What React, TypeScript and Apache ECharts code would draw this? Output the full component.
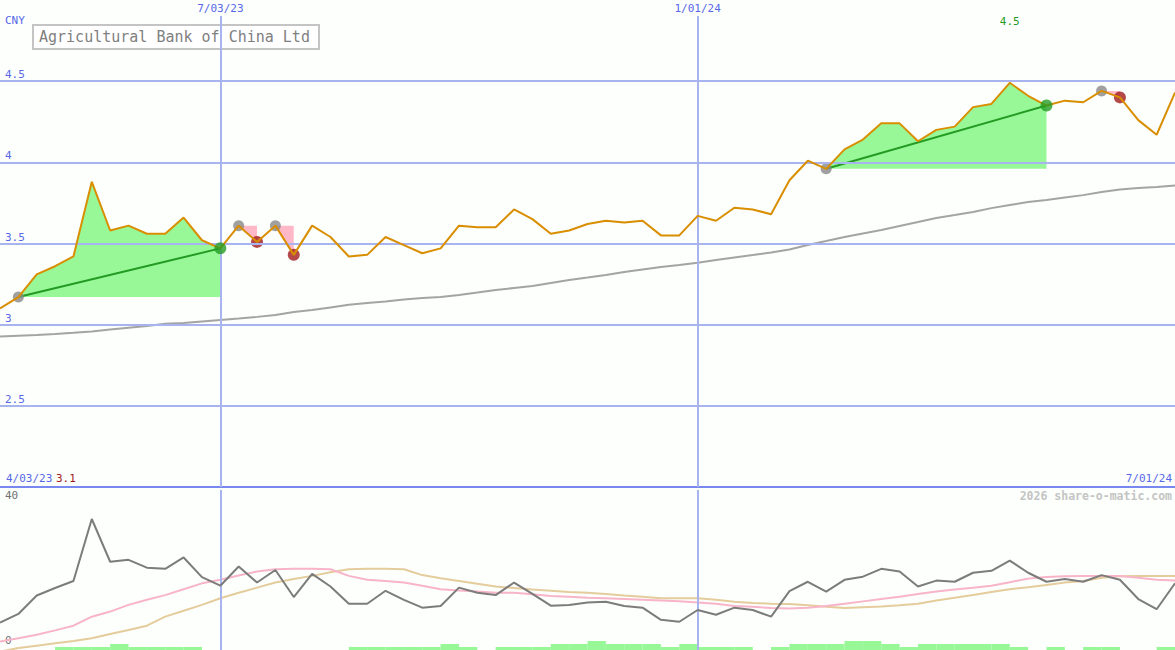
import React, { useEffect, useRef } from "react";
import * as echarts from "echarts";

// ---------- texts / ticks ----------
const title = "Agricultural Bank of China Ltd";
const currency = "CNY";
const startDateLabel = "4/03/23";
const endDateLabel = "7/01/24";
const watermark = "2026 share-o-matic.com";
const dateTicks = [
  { week: 12, label: "7/03/23" },
  { week: 38, label: "1/01/24" },
];
const priceLevels = [2.5, 3, 3.5, 4, 4.5];
const lowerTickLabels = ["40", "0"];

// ---------- weekly data (index 0..64) ----------
const price = [
  3.10, 3.17, 3.31, 3.36, 3.42, 3.88, 3.58, 3.61, 3.56, 3.56,
  3.66, 3.52, 3.47, 3.61, 3.51, 3.61, 3.43, 3.61, 3.54, 3.42,
  3.43, 3.54, 3.49, 3.44, 3.47, 3.61, 3.60, 3.60, 3.71, 3.65,
  3.56, 3.58, 3.62, 3.64, 3.63, 3.64, 3.55, 3.55, 3.67, 3.64,
  3.72, 3.71, 3.68, 3.89, 4.01, 3.96, 4.08, 4.14, 4.24, 4.24,
  4.13, 4.20, 4.22, 4.34, 4.36, 4.49, 4.41, 4.35, 4.38, 4.37,
  4.44, 4.40, 4.26, 4.17, 4.43,
];

const priceMA = [
  2.927, 2.932, 2.937, 2.943, 2.950, 2.958, 2.970, 2.981, 2.992, 3.005,
  3.011, 3.020, 3.029, 3.038, 3.048, 3.060, 3.078, 3.090, 3.106, 3.122,
  3.134, 3.143, 3.155, 3.165, 3.171, 3.183, 3.198, 3.214, 3.226, 3.238,
  3.257, 3.275, 3.290, 3.306, 3.325, 3.340, 3.355, 3.368, 3.382, 3.398,
  3.414, 3.429, 3.445, 3.463, 3.491, 3.515, 3.540, 3.562, 3.583, 3.608,
  3.632, 3.657, 3.675, 3.694, 3.718, 3.737, 3.755, 3.768, 3.783, 3.798,
  3.817, 3.832, 3.842, 3.848, 3.857,
];

const oscGrey = [
  6.2, 8.4, 13.1, 15.0, 16.8, 32.6, 21.7, 22.2, 20.2, 19.9,
  22.8, 17.8, 15.6, 20.5, 16.4, 19.6, 12.7, 18.6, 15.4, 11.0,
  11.0, 14.3, 12.0, 10.0, 10.4, 15.1, 13.8, 13.2, 16.4, 13.5,
  10.5, 10.7, 11.3, 11.5, 10.4, 10.0, 6.9, 6.4, 9.4, 8.2,
  10.0, 9.4, 7.7, 14.2, 16.6, 14.1, 17.1, 17.9, 19.9, 19.2,
  15.4, 16.9, 16.6, 18.9, 19.4, 22.0, 18.9, 16.6, 17.3, 16.6,
  18.3, 17.1, 12.2, 9.6, 16.2,
];

const oscPink = [
  1.35, 2.2, 3.1, 4.2, 5.4, 7.7, 9.0, 10.7, 12.0, 13.2,
  14.7, 16.2, 17.1, 18.2, 19.2, 19.8, 19.9, 19.9, 19.8, 18.1,
  17.1, 16.8, 16.4, 15.6, 14.7, 14.4, 14.1, 13.8, 13.8, 13.4,
  13.0, 12.8, 12.5, 12.4, 12.2, 12.0, 11.8, 11.6, 11.3, 11.0,
  10.4, 10.2, 9.9, 9.8, 10.0, 10.4, 11.0, 11.6, 12.2, 12.8,
  13.5, 14.1, 14.6, 15.1, 15.6, 16.5, 17.4, 17.8, 18.0, 18.1,
  18.1, 18.1, 17.6, 17.1, 16.9,
];

const oscTan = [
  -1.2, -0.3, 0.3, 0.9, 1.5, 2.2, 3.3, 4.3, 5.4, 7.7,
  9.2, 10.7, 12.4, 13.8, 15.1, 16.4, 17.3, 18.1, 19.0, 19.8,
  19.9, 19.9, 19.8, 18.3, 17.5, 16.8, 16.1, 15.4, 15.0, 14.6,
  14.3, 14.0, 13.8, 13.5, 13.1, 12.8, 12.4, 12.4, 12.4, 12.0,
  11.5, 11.2, 11.0, 10.9, 10.6, 10.2, 9.9, 10.1, 10.3, 10.6,
  11.0, 11.8, 12.5, 13.2, 14.0, 14.7, 15.2, 15.8, 16.4, 16.8,
  17.6, 18.0, 18.1, 18.1, 18.1,
];

const volume = [
  0, 0, 0, 1, 1, 1, 2, 1, 1, 1,
  1, 0, 0, 0, 0, 0, 0, 0, 0, 1,
  1, 1, 1, 1, 2, 1, 0, 1, 1, 1,
  2, 2, 3, 2, 2, 2, 1, 2, 1, 1,
  1, 0, 1, 2, 2, 2, 3, 3, 2, 1,
  2, 2, 2, 2, 2, 1, 0, 1, 0, 1,
  1, 0, 0, 1, 0,
];

const gainZones = [
  [1, 12],
  [45, 57],
];
const lossZones = [
  [13, 14],
  [15, 16],
  [60, 61],
];

// ---------- styles ----------
const FONT = '"DejaVu Sans Mono", "Liberation Mono", monospace';
const BLUE_TEXT = "#5868e8";
const GRID_LINE = "#a8b4f0";
const SEP_LINE = "#7888f0";
const BG = "#fcfffc";

const W = 1175;
const H = 650;

const toPts = (arr: number[]) => arr.map((v, i) => [i, v]);

export default function App() {
  const ref = useRef<HTMLDivElement>(null);

  useEffect(() => {
    if (!ref.current) return;
    const chart = echarts.init(ref.current, undefined, { renderer: "svg", width: W, height: H });

    const lastIdx = price.length - 1;
    const minPrice = Math.min(...price);

    const greyDots = [...gainZones, ...lossZones].map(([s]) => [s, price[s]]);
    const greenDots = gainZones.map(([, e]) => [e, price[e]]);
    const redDots = lossZones.map(([, e]) => [e, price[e]]);

    const option: any = {
      animation: false,
      backgroundColor: BG,
      grid: [
        { left: 0, top: 16, width: W, height: 471 },
        { left: 0, top: 490, width: W, height: 160 },
        { left: 0, top: 490, width: W, height: 160 },
      ],
      xAxis: [
        {
          gridIndex: 0,
          type: "value",
          min: 0,
          max: lastIdx,
          axisLine: { show: true, onZero: false, lineStyle: { color: SEP_LINE, width: 2 } },
          axisTick: { show: false },
          axisLabel: { show: false },
          splitLine: { show: false },
        },
        { gridIndex: 1, type: "value", min: 0, max: lastIdx, show: false, splitLine: { show: false } },
        { gridIndex: 2, type: "value", min: 0, max: lastIdx, show: false, splitLine: { show: false } },
      ],
      yAxis: [
        { gridIndex: 0, type: "value", min: 2, max: 2 + (471 * 3) / 487, show: false, splitLine: { show: false } },
        { gridIndex: 1, type: "value", min: -0.8, max: 40, show: false, splitLine: { show: false } },
        { gridIndex: 2, type: "value", min: 0, max: 160 / 3, show: false, splitLine: { show: false } },
      ],
      series: [
        // grid lines + date lines for the price panel
        {
          type: "line",
          xAxisIndex: 0,
          yAxisIndex: 0,
          data: toPts(price),
          showSymbol: false,
          lineStyle: { opacity: 0 },
          z: 1,
          silent: true,
          markLine: {
            silent: true,
            symbol: "none",
            animation: false,
            lineStyle: { color: GRID_LINE, width: 2, type: "solid" },
            data: [
              ...priceLevels.map((v) => ({
                yAxis: v,
                label: {
                  show: true,
                  position: "insideStartTop",
                  distance: [5, 1],
                  formatter: String(v),
                  color: BLUE_TEXT,
                  fontFamily: FONT,
                  fontSize: 11,
                },
              })),
              ...dateTicks.map((d) => ({
                xAxis: d.week,
                label: {
                  show: true,
                  position: "end",
                  distance: 2,
                  formatter: d.label,
                  color: BLUE_TEXT,
                  fontFamily: FONT,
                  fontSize: 11,
                },
              })),
            ],
          },
        },
        // date lines for the lower panel
        {
          type: "line",
          xAxisIndex: 1,
          yAxisIndex: 1,
          data: toPts(oscGrey),
          showSymbol: false,
          lineStyle: { opacity: 0 },
          z: 1,
          silent: true,
          markLine: {
            silent: true,
            symbol: "none",
            animation: false,
            lineStyle: { color: GRID_LINE, width: 2, type: "solid" },
            label: { show: false },
            data: dateTicks.map((d) => ({ xAxis: d.week })),
          },
        },
        // gain zones
        {
          type: "custom",
          xAxisIndex: 0,
          yAxisIndex: 0,
          z: 2,
          silent: true,
          data: gainZones.map(([s, e]) => [s, price[s], e, price[e]]),
          encode: { x: [0, 2], y: [1, 3] },
          renderItem: (_params: any, api: any) => {
            const s = api.value(0);
            const e = api.value(2);
            const base = price[s];
            const pts: number[][] = [];
            for (let i = s; i <= e; i++) pts.push(api.coord([i, price[i]]));
            pts.push(api.coord([e, base]));
            pts.push(api.coord([s, base]));
            const a = api.coord([s, price[s]]);
            const b = api.coord([e, price[e]]);
            return {
              type: "group",
              children: [
                { type: "polygon", shape: { points: pts }, style: { fill: "#98f898" } },
                {
                  type: "line",
                  shape: { x1: a[0], y1: a[1], x2: b[0], y2: b[1] },
                  style: { stroke: "#239b23", lineWidth: 2 },
                },
              ],
            };
          },
        },
        // loss zones
        {
          type: "custom",
          xAxisIndex: 0,
          yAxisIndex: 0,
          z: 2,
          silent: true,
          data: lossZones.map(([s, e]) => [s, price[s], e, price[e]]),
          encode: { x: [0, 2], y: [1, 3] },
          renderItem: (_params: any, api: any) => {
            const s = api.value(0);
            const e = api.value(2);
            const top = price[s];
            const pts: number[][] = [];
            for (let i = s; i <= e; i++) pts.push(api.coord([i, price[i]]));
            pts.push(api.coord([e, top]));
            return { type: "polygon", shape: { points: pts }, style: { fill: "#ffb8c8" } };
          },
        },
        // long moving average
        {
          type: "line",
          xAxisIndex: 0,
          yAxisIndex: 0,
          data: toPts(priceMA),
          showSymbol: false,
          lineStyle: { color: "#a4a4a4", width: 2 },
          z: 3,
          silent: true,
        },
        // grey start dots
        {
          type: "scatter",
          xAxisIndex: 0,
          yAxisIndex: 0,
          data: greyDots,
          symbolSize: 11,
          itemStyle: { color: "#888888" },
          z: 4,
          silent: true,
        },
        // red end dots
        {
          type: "scatter",
          xAxisIndex: 0,
          yAxisIndex: 0,
          data: redDots,
          symbolSize: 12,
          itemStyle: { color: "#a31a1a" },
          z: 4,
          silent: true,
        },
        // price line
        {
          type: "line",
          xAxisIndex: 0,
          yAxisIndex: 0,
          data: toPts(price),
          showSymbol: false,
          lineStyle: { color: "#d98e00", width: 2 },
          z: 5,
          silent: true,
          markPoint: {
            silent: true,
            symbol: "circle",
            symbolSize: 1,
            itemStyle: { color: "rgba(0,0,0,0)" },
            label: {
              show: true,
              position: "top",
              distance: 55,
              color: "#239b23",
              fontFamily: FONT,
              fontSize: 11,
              formatter: (p: any) => Number(p.value).toFixed(1),
            },
            data: [{ type: "max", name: "max", valueDim: "y" }],
          },
        },
        // green end dots
        {
          type: "scatter",
          xAxisIndex: 0,
          yAxisIndex: 0,
          data: greenDots,
          symbolSize: 12,
          itemStyle: { color: "#249c24" },
          z: 6,
          silent: true,
        },
        // lower panel
        {
          type: "line",
          xAxisIndex: 1,
          yAxisIndex: 1,
          data: toPts(oscTan),
          showSymbol: false,
          lineStyle: { color: "#e4cc9c", width: 2 },
          z: 3,
          silent: true,
        },
        {
          type: "line",
          xAxisIndex: 1,
          yAxisIndex: 1,
          data: toPts(oscPink),
          showSymbol: false,
          lineStyle: { color: "#f8b4c8", width: 2 },
          z: 4,
          silent: true,
        },
        {
          type: "line",
          xAxisIndex: 1,
          yAxisIndex: 1,
          data: toPts(oscGrey),
          showSymbol: false,
          lineStyle: { color: "#7c7c7c", width: 2 },
          z: 5,
          silent: true,
        },
        {
          type: "bar",
          xAxisIndex: 2,
          yAxisIndex: 2,
          data: volume.map((v, i) => [i + 0.5, v]),
          barWidth: 18.4,
          itemStyle: { color: "#98f898" },
          z: 2,
          silent: true,
        },
      ],
      graphic: [
        {
          type: "group",
          left: 32,
          top: 24,
          children: [
            {
              type: "rect",
              shape: { x: 0, y: 0, width: 286, height: 24 },
              style: { fill: "#ffffff", stroke: "#c4c4c4", lineWidth: 2 },
            },
            {
              type: "text",
              x: 6,
              y: 12,
              style: {
                text: title,
                fill: "#808080",
                font: `15px ${FONT}`,
                verticalAlign: "middle",
              },
            },
          ],
        },
        {
          type: "text",
          left: 5,
          top: 15,
          style: { text: currency, fill: BLUE_TEXT, font: `11px ${FONT}` },
        },
        {
          type: "text",
          left: 6,
          top: 473,
          style: { text: startDateLabel, fill: BLUE_TEXT, font: `11px ${FONT}` },
        },
        {
          type: "text",
          left: 56,
          top: 473,
          style: { text: minPrice.toFixed(1), fill: "#a31a1a", font: `11px ${FONT}` },
        },
        {
          type: "text",
          right: 3,
          top: 473,
          style: { text: endDateLabel, fill: BLUE_TEXT, font: `11px ${FONT}` },
        },
        {
          type: "text",
          right: 3,
          top: 490,
          style: { text: watermark, fill: "#c4c4c4", font: `bold 11.5px ${FONT}` },
        },
        {
          type: "text",
          left: 5,
          top: 490,
          style: { text: lowerTickLabels[0], fill: "#707070", font: `11px ${FONT}` },
        },
        {
          type: "text",
          left: 5,
          top: 635,
          style: { text: lowerTickLabels[1], fill: "#707070", font: `11px ${FONT}` },
        },
      ],
    };

    chart.setOption(option);
    return () => chart.dispose();
  }, []);

  return (
    <div
      ref={ref}
      style={{ position: "fixed", left: 0, top: 0, width: W, height: H, background: BG }}
    />
  );
}
